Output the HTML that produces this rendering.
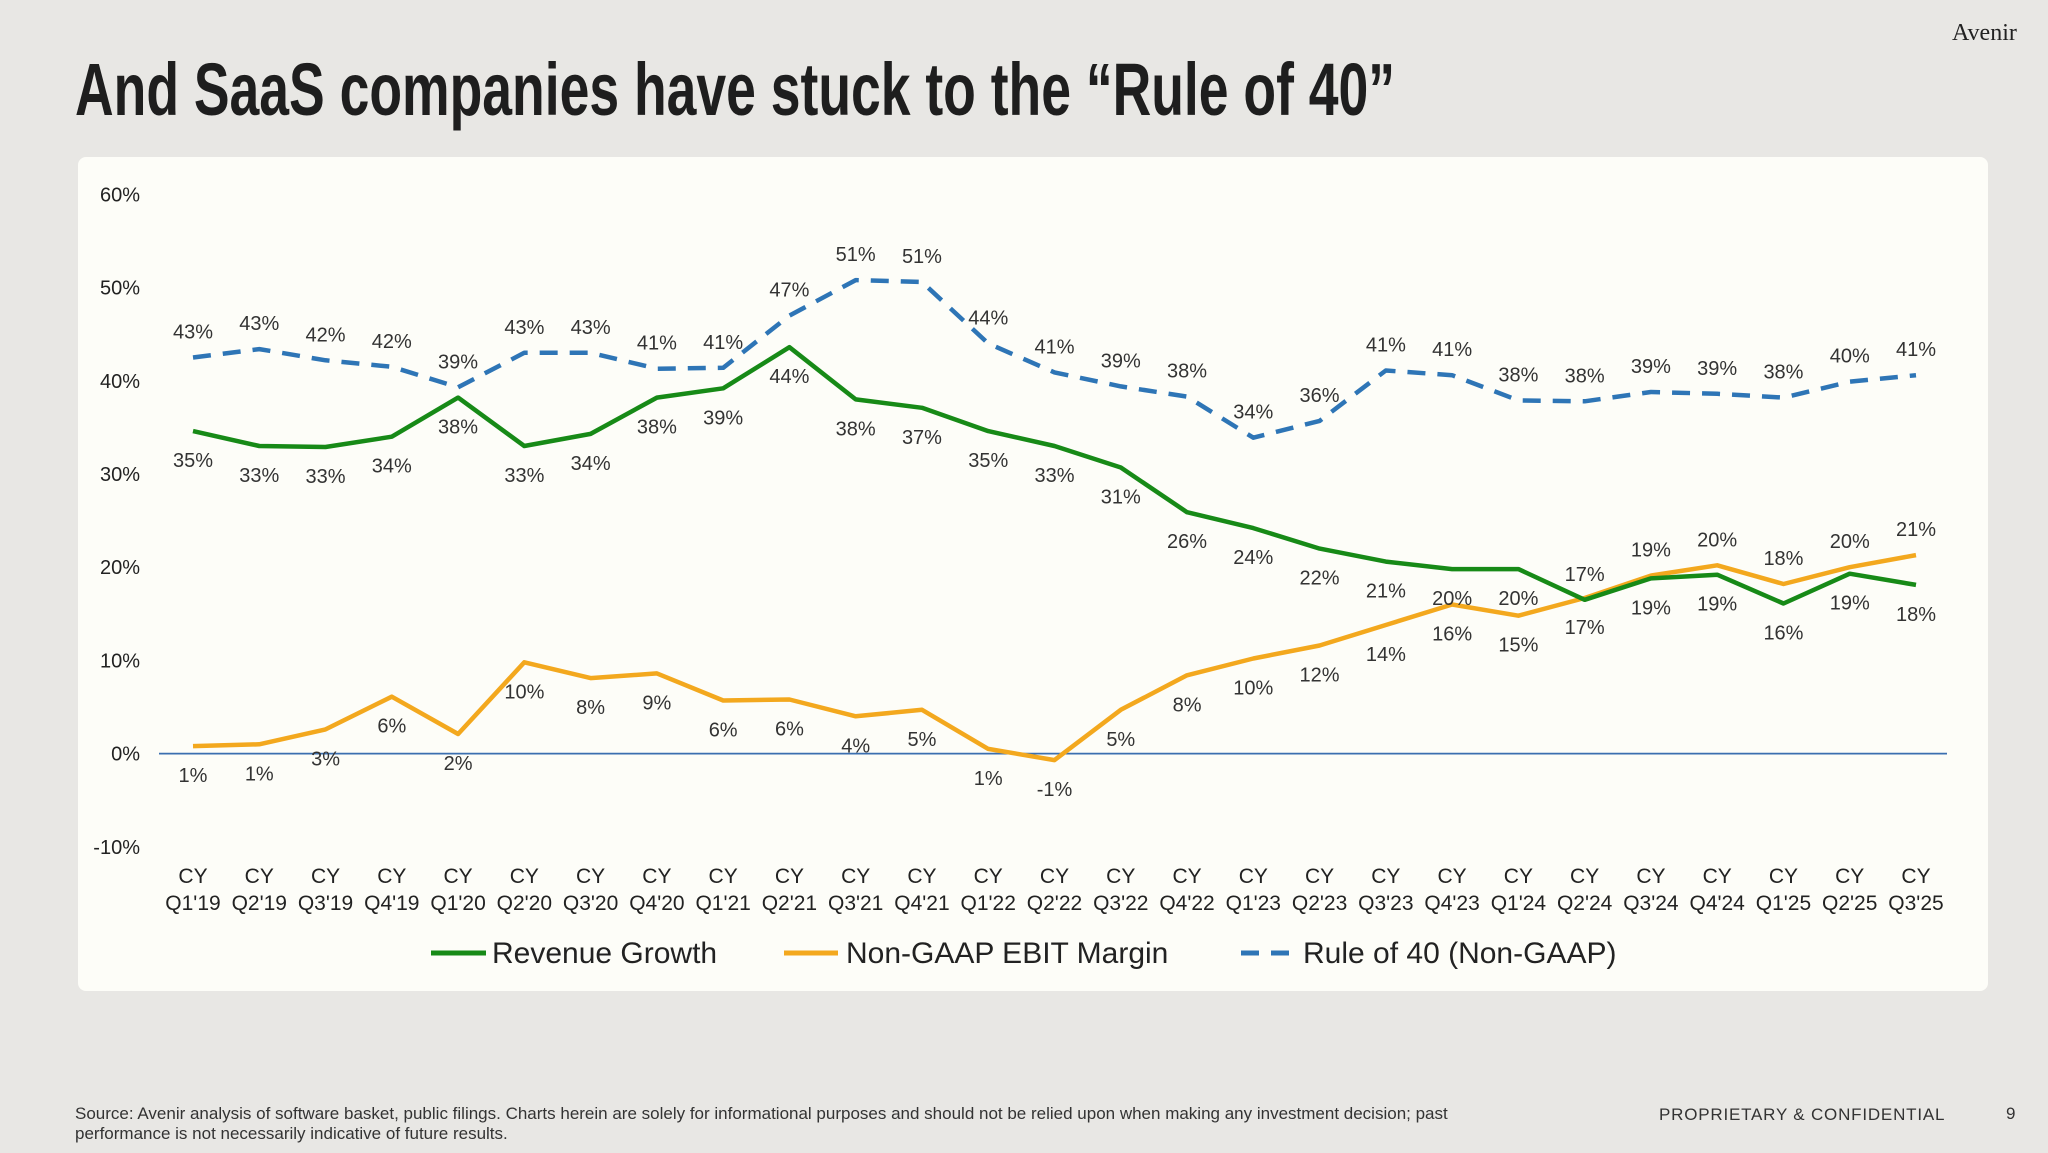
<!DOCTYPE html>
<html><head><meta charset="utf-8"><style>
html,body{margin:0;padding:0;background:#e8e7e4;}
svg{display:block;font-family:"Liberation Sans",sans-serif;}
</style></head><body>
<svg id="chart" width="2048" height="1153" viewBox="0 0 2048 1153" xmlns="http://www.w3.org/2000/svg">
<rect x="0" y="0" width="2048" height="1153" fill="#e8e7e4"/>
<text x="1952" y="40" font-family="Liberation Serif,serif" font-size="24" fill="#222">Avenir</text>
<text x="75" y="115" font-size="74" font-weight="bold" fill="#1e1e1e" textLength="1320" lengthAdjust="spacingAndGlyphs">And SaaS companies have stuck to the “Rule of 40”</text>
<rect x="78" y="157" width="1910" height="834" rx="8" fill="#fdfdf8"/>
<g id="yaxis"></g>
<g id="xaxis"></g>
<g id="series"></g>
<g id="labels"></g>
<g>
<g><line x1="431" y1="953" x2="486" y2="953" stroke="#178a17" stroke-width="5"/><text x="492" y="963" font-size="30" fill="#222">Revenue Growth</text></g>
<g><line x1="784" y1="953" x2="838" y2="953" stroke="#f3a81e" stroke-width="5"/><text x="846" y="963" font-size="30" fill="#222">Non-GAAP EBIT Margin</text></g>
<g><line x1="1241" y1="953" x2="1293" y2="953" stroke="#2e75b6" stroke-width="5" stroke-dasharray="18,12"/><text x="1303" y="963" font-size="30" fill="#222">Rule of 40 (Non-GAAP)</text></g>
</g>
<text x="75" y="1119" font-size="17" fill="#333">Source: Avenir analysis of software basket, public filings. Charts herein are solely for informational purposes and should not be relied upon when making any investment decision; past</text>
<text x="75" y="1139" font-size="17" fill="#333">performance is not necessarily indicative of future results.</text>
<text x="1659" y="1120" font-size="17" fill="#333" letter-spacing="0.8">PROPRIETARY &amp; CONFIDENTIAL</text>
<text x="2006" y="1119" font-size="17" fill="#333">9</text>
</svg>
<script>
const categories = ["Q1'19","Q2'19","Q3'19","Q4'19","Q1'20","Q2'20","Q3'20","Q4'20","Q1'21","Q2'21","Q3'21","Q4'21","Q1'22","Q2'22","Q3'22","Q4'22","Q1'23","Q2'23","Q3'23","Q4'23","Q1'24","Q2'24","Q3'24","Q4'24","Q1'25","Q2'25","Q3'25"];
const revenueGrowth = [34.6,33.0,32.9,34.0,38.2,33.0,34.3,38.2,39.2,43.6,38.0,37.1,34.6,33.0,30.7,25.9,24.2,22.0,20.6,19.8,19.8,16.5,18.8,19.2,16.1,19.3,18.1];
const ebitMargin = [0.8,1.0,2.6,6.1,2.1,9.8,8.1,8.6,5.7,5.8,4.0,4.7,0.5,-0.7,4.7,8.4,10.2,11.6,13.8,16.0,14.8,16.7,19.1,20.2,18.2,20.0,21.3];
const ruleOf40 = [42.5,43.4,42.2,41.5,39.3,43.0,43.0,41.3,41.4,47.0,50.8,50.6,44.0,40.9,39.4,38.3,33.9,35.7,41.1,40.6,37.9,37.8,38.8,38.6,38.2,39.9,40.6];
const yTicks = [-10,0,10,20,30,40,50,60];
const revenueLabelAbove = [21];
const ebitLabelAboveFrom = 22;

const NS = "http://www.w3.org/2000/svg";
const x0 = 193, xStep = (1916-193)/26;
const y0 = 753.6, yPer = 9.32;
function xs(i){ return x0 + i*xStep; }
function ys(v){ return y0 - v*yPer; }
function mk(tag, attrs, parent){ const e=document.createElementNS(NS,tag); for(const k in attrs) e.setAttribute(k,attrs[k]); parent.appendChild(e); return e; }

const yaxis=document.getElementById('yaxis');
yTicks.forEach(t=>{
  const e=mk('text',{x:140,y:ys(t)+7,'text-anchor':'end','font-size':20,fill:'#222'},yaxis);
  
  
  e.textContent=t+'%';
});
const zl=mk('line',{x1:159,x2:1947,y1:ys(0),y2:ys(0),stroke:'#3b6fb0','stroke-width':1.8},yaxis);



const xaxis=document.getElementById('xaxis');
categories.forEach((c,i)=>{
  const a=mk('text',{x:xs(i),y:883,'text-anchor':'middle','font-size':21,fill:'#222'},xaxis);
  
  
  a.textContent='CY';
  const b=mk('text',{x:xs(i),y:910,'text-anchor':'middle','font-size':21,fill:'#222'},xaxis);
  
  
  b.textContent=c;
});

const series=document.getElementById('series');
function line(vals,color,dash,name){
  const p=mk('polyline',{points:vals.map((v,i)=>xs(i).toFixed(1)+','+ys(v).toFixed(1)).join(' '),fill:'none',stroke:color,'stroke-width':4.5,'stroke-linejoin':'round'},series);
  if(dash) p.setAttribute('stroke-dasharray',dash);
  
  
}
line(ebitMargin,'#f3a81e',null,'ebit-margin-line');
line(revenueGrowth,'#178a17',null,'revenue-growth-line');
line(ruleOf40,'#2e75b6','18,12','rule-of-40-line');

const labels=document.getElementById('labels');
function lab(vals,aboveFn,name){
  vals.forEach((v,i)=>{
    const above=aboveFn(i);
    const e=mk('text',{x:xs(i),y:ys(v)+(above?-19:36),'text-anchor':'middle','font-size':20,fill:'#333'},labels);
    
    
    e.textContent=Math.round(v)+'%';
  });
}
lab(ruleOf40,()=>true,'rule-of-40-label');
lab(revenueGrowth,i=>revenueLabelAbove.includes(i),'revenue-growth-label');
lab(ebitMargin,i=>i>=ebitLabelAboveFrom,'ebit-margin-label');
</script>
</body></html>
